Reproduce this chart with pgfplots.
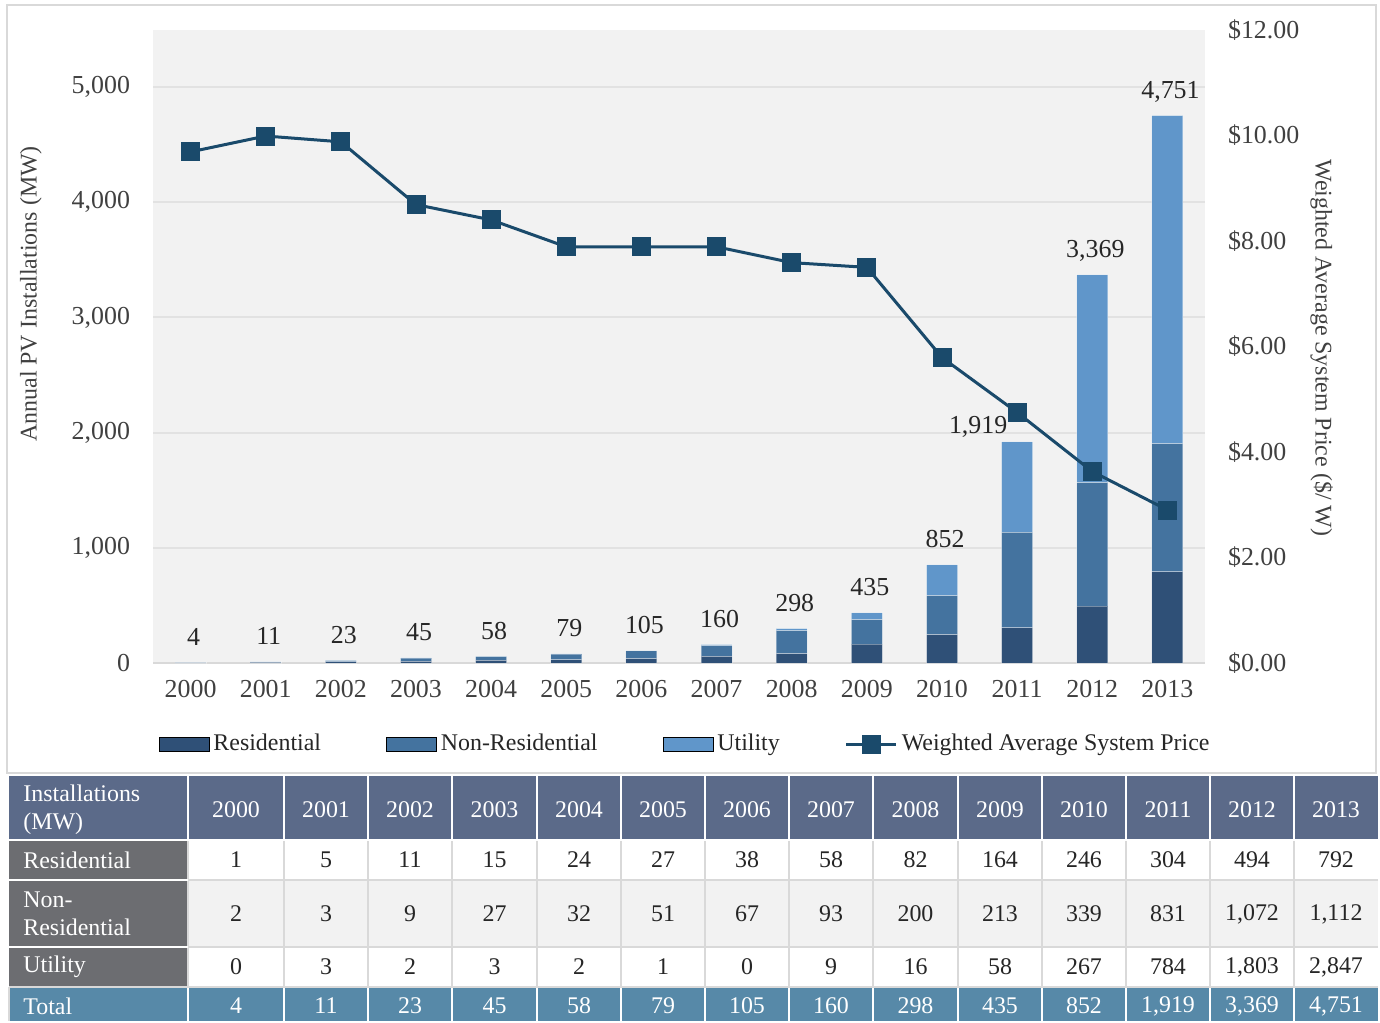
\documentclass[border=0pt]{standalone}
\usepackage{fontspec}
\setmainfont{Liberation Serif}
\usepackage{pgfplots}
\pgfplotsset{compat=1.18}
\pgfkeys{/pgf/number format/assume math mode=true}

\definecolor{resC}{HTML}{2F5077}
\definecolor{nresC}{HTML}{44739F}
\definecolor{utilC}{HTML}{6096CA}
\definecolor{lineC}{HTML}{1A4A6B}
\definecolor{bgC}{HTML}{F2F2F2}
\definecolor{gridC}{HTML}{E2E2E2}
\definecolor{frameC}{HTML}{D9D9D9}
\definecolor{hdrC}{HTML}{5B6A89}
\definecolor{labC}{HTML}{6C6D71}
\definecolor{totC}{HTML}{5789A8}
\definecolor{txtC}{HTML}{262626}
\definecolor{tickC}{HTML}{404040}

\newcommand\ft{\fontsize{13}{15}\selectfont}
\newcommand\fs{\fontsize{12}{14}\selectfont}

\pgfplotsset{
  barleg/.style={legend image code/.code={\fill[##1] (0bp,-3.5bp) rectangle (25bp,3.5bp);}},
  lineleg/.style={legend image code/.code={\draw[##1,mark repeat=2,mark phase=2] plot coordinates {(0bp,0bp) (12.5bp,0bp) (25bp,0bp)};}},
  place/.style={at={(76.5bp,-331.5bp)}, anchor=south west,
    width=526bp, height=316.5bp, scale only axis, xmin=1999.5, xmax=2013.5},
}

\begin{document}
\begin{tikzpicture}
\begin{scope}[x=0.5bp,y=-0.5bp]
\useasboundingbox (0,0) rectangle (1380,1021);
\draw[frameC, line width=1bp] (7,5) rectangle (1376,773);
\end{scope}

% bars
\begin{axis}[
  place, ymin=0, ymax=5495,
  axis background/.style={fill=bgC},
  ybar stacked, bar width=15.5bp,
  xtick={2000,...,2013}, ytick={0,1000,...,5000},
  xticklabel style={/pgf/number format/1000 sep=, font=\ft, text=tickC},
  yticklabel style={/pgf/number format/1000 sep={,}, font=\ft, text=tickC},
  axis x line*=bottom, axis y line*=left,
  x axis line style={frameC, line width=1bp, -},
  y axis line style={draw=none},
  major tick length=0pt,
  xtick pos=bottom,
  ymajorgrids, grid style={gridC, line width=1bp},
  xticklabel shift=5bp, yticklabel shift=8bp,
  ylabel={Annual PV Installations (MW)},
  ylabel style={at={(axis description cs:-0.116,0.583)}, anchor=center, font=\fs, text=tickC},
]
\addplot[fill=resC, draw=white, draw opacity=0.35, line width=0.5bp] coordinates {
(2000,1)(2001,5)(2002,11)(2003,15)(2004,24)(2005,27)(2006,38)
(2007,58)(2008,82)(2009,164)(2010,246)(2011,304)(2012,494)(2013,792)};
\addplot[fill=nresC, draw=white, draw opacity=0.35, line width=0.5bp] coordinates {
(2000,2)(2001,3)(2002,9)(2003,27)(2004,32)(2005,51)(2006,67)
(2007,93)(2008,200)(2009,213)(2010,339)(2011,831)(2012,1072)(2013,1112)};
\addplot[fill=utilC, draw=white, draw opacity=0.35, line width=0.5bp] coordinates {
(2000,0)(2001,3)(2002,2)(2003,3)(2004,2)(2005,1)(2006,0)
(2007,9)(2008,16)(2009,58)(2010,267)(2011,784)(2012,1803)(2013,2847)};
\end{axis}

% total labels
\begin{axis}[place, ymin=0, ymax=5495, hide axis]
\addplot[draw=none, mark=none, point meta=explicit symbolic, nodes near coords,
  every node near coord/.append style={anchor=base, yshift=8.5bp, xshift=1.5bp, inner sep=0pt, font=\ft, text=txtC}]
  coordinates {
(2000,4)[4](2001,11)[11](2002,23)[23](2003,45)[45](2004,58)[58](2005,79)[79](2006,105)[105]
(2007,160)[160](2008,298)[298](2009,435)[435](2010,852)[852]
(2012,3369)[3{,}369](2013,4751)[4{,}751]};
\addplot[draw=none, mark=none, point meta=explicit symbolic, nodes near coords,
  every node near coord/.append style={anchor=base, yshift=4bp, xshift=-19.5bp, inner sep=0pt, font=\ft, text=txtC}]
  coordinates {(2011,1919)[1{,}919]};
\end{axis}

% price line
\begin{axis}[
  place, ymin=0, ymax=12,
  hide x axis,
  axis y line*=right,
  y axis line style={draw=none},
  major tick length=0pt,
  ytick={0,2,...,12},
  yticklabel={\$\pgfmathprintnumber[fixed,fixed zerofill,precision=2]{\tick}},
  yticklabel style={font=\ft, text=tickC},
  yticklabel shift=8bp,
  ylabel={Weighted Average System Price (\$/ W)},
  ylabel style={at={(axis description cs:1.111,0.498)}, anchor=center, rotate=180, font=\fs, text=tickC},
  legend columns=4,
  legend style={at={(axis description cs:0.005,-0.128)}, anchor=west, draw=none, fill=none,
    font=\fs, text=txtC, inner sep=0pt,
    /tikz/every even column/.append style={column sep=30.5bp},
    nodes={inner sep=2bp}},
]
\addlegendimage{barleg, fill=resC}
\addlegendentry{Residential}
\addlegendimage{barleg, fill=nresC}
\addlegendentry{Non-Residential}
\addlegendimage{barleg, fill=utilC}
\addlegendentry{Utility}
\addplot[lineleg, lineC, line width=1.5bp, mark=square*, mark size=4bp, mark options={solid}] coordinates {
(2000,9.69)(2001,9.99)(2002,9.88)(2003,8.69)(2004,8.40)(2005,7.89)(2006,7.89)
(2007,7.89)(2008,7.59)(2009,7.50)(2010,5.79)(2011,4.75)(2012,3.63)(2013,2.90)};
\addlegendentry{Weighted Average System Price}
\end{axis}

% data table
\begin{scope}[x=0.5bp,y=-0.5bp]
\def\colL{{9,188,284,368,452,537,621,705,789,873,958,1042,1126,1210,1294,1378}}
\fill[hdrC] (9,776) rectangle (1378,839);
\fill[labC] (9,840) rectangle (188,986);
\fill[white] (188,840) rectangle (1378,879);
\fill[bgC] (188,880) rectangle (1378,946);
\fill[white] (188,947) rectangle (1378,986);
\fill[totC] (9,987) rectangle (1378,1021);
\foreach \x in {188,284,368,452,537,621,705,789,873,958,1042,1126,1210,1294} {
  \draw[white, line width=1bp] (\x,776) -- (\x,839);
  \draw[frameC, line width=1bp] (\x,840) -- (\x,986);
  \draw[white, line width=1bp] (\x,988) -- (\x,1021);
}
\draw[white, line width=1bp] (9,839.5) -- (1378,839.5);
\draw[frameC, line width=1bp] (188,879.5) -- (1378,879.5) (188,946.5) -- (1378,946.5);
\draw[white, line width=1bp] (9,879.5) -- (188,879.5) (9,946.5) -- (188,946.5);
\draw[frameC, line width=1bp] (9,986.5) -- (1378,986.5);
\draw[frameC, line width=1bp] (9,987) -- (9,1021);

\node[anchor=west, align=left, text=white, font=\fs, inner sep=0pt] at (23,810)
  {Installations\\[0bp](MW)};
\node[anchor=west, text=white, font=\fs, inner sep=0pt] at (23,860) {Residential};
\node[anchor=west, align=left, text=white, font=\fs, inner sep=0pt] at (23,914)
  {Non-\\[0bp]Residential};
\node[anchor=west, text=white, font=\fs, inner sep=0pt] at (23,967) {Utility};
\node[anchor=west, text=white, font=\fs, inner sep=0pt] at (23,1006) {Total};

\foreach \v [count=\i] in {2000,2001,2002,2003,2004,2005,2006,2007,2008,2009,2010,2011,2012,2013} {
  \pgfmathsetmacro\cx{0.5*(\colL[\i]+\colL[\i+1])}
  \node[text=white, font=\fs] at (\cx,810) {\v};
}
\foreach \v [count=\i] in {1,5,11,15,24,27,38,58,82,164,246,304,494,792} {
  \pgfmathsetmacro\cx{0.5*(\colL[\i]+\colL[\i+1])}
  \node[text=txtC, font=\fs] at (\cx,860) {\pgfmathprintnumber[1000 sep={,}]{\v}};
}
\foreach \v [count=\i] in {2,3,9,27,32,51,67,93,200,213,339,831,1072,1112} {
  \pgfmathsetmacro\cx{0.5*(\colL[\i]+\colL[\i+1])}
  \node[text=txtC, font=\fs] at (\cx,914) {\pgfmathprintnumber[1000 sep={,}]{\v}};
}
\foreach \v [count=\i] in {0,3,2,3,2,1,0,9,16,58,267,784,1803,2847} {
  \pgfmathsetmacro\cx{0.5*(\colL[\i]+\colL[\i+1])}
  \node[text=txtC, font=\fs] at (\cx,967) {\pgfmathprintnumber[1000 sep={,}]{\v}};
}
\foreach \v [count=\i] in {4,11,23,45,58,79,105,160,298,435,852,1919,3369,4751} {
  \pgfmathsetmacro\cx{0.5*(\colL[\i]+\colL[\i+1])}
  \node[text=white, font=\fs] at (\cx,1006) {\pgfmathprintnumber[1000 sep={,}]{\v}};
}
\end{scope}
\end{tikzpicture}
\end{document}
